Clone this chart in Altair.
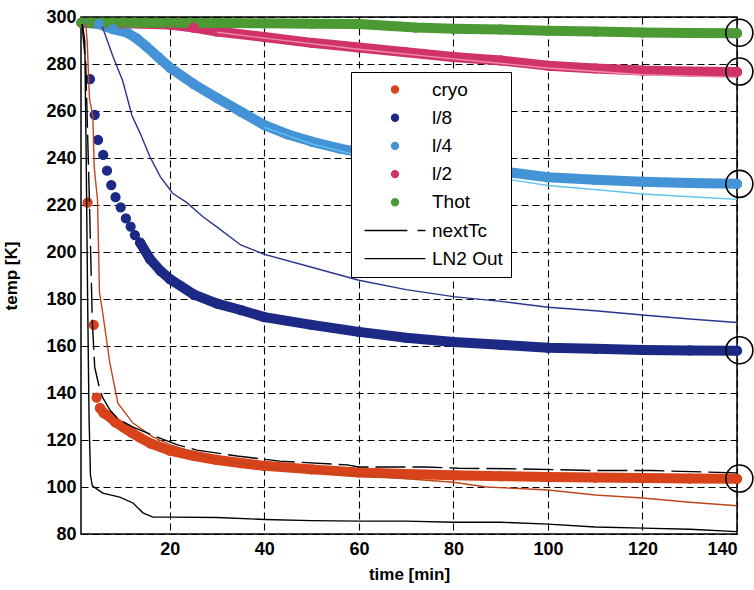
import altair as alt
import pandas as pd

# ---------------- data ----------------
series_names = ["cryo", "l/8", "l/4", "l/2", "Thot", "nextTc", "LN2 Out"]
series_colors = ["#d8431c", "#1c2a86", "#4493d6", "#d0336a", "#4c9a34", "#000000", "#000000"]

# early, separated dots
cryo_dot_t = [2.6, 3.9, 4.5]
cryo_dot_T = [221, 169, 138]
l8_dot_t = [3.1, 4.1, 4.8, 5.9, 6.7, 7.6, 8.5, 9.6, 10.7, 11.7, 12.6]
l8_dot_T = [273.6, 258.3, 247.7, 241.3, 234.6, 228.5, 223.3, 219.0, 214.3, 210.8, 207.2]

# dense parts (drawn as bands of dots)
cryo_t = [5.2, 6, 7.3, 8.5, 10.1, 12, 13.7, 16, 20, 25, 30, 35, 40, 50, 60, 70, 80, 90, 100, 110, 120, 130, 140]
cryo_T = [133.6, 131.5, 129.8, 127.5, 125.5, 123, 121, 118.5, 115.5, 113.3, 111.5, 110.2, 109, 107.5, 106.2,
          105.5, 105, 104.6, 104.3, 104, 103.8, 103.6, 103.5]
l8_t = [13.7, 15.8, 18, 20, 25, 30, 35, 40, 50, 60, 70, 80, 90, 100, 110, 120, 130, 140]
l8_T = [204, 197, 192, 188.5, 182, 178, 175.3, 172.3, 169, 166, 163.5, 161.7, 160.5, 159.3, 158.8, 158.3, 158.1, 158]
l4_t = [1.5, 5, 8, 11, 13, 15, 17.5, 20, 25, 30, 35, 40, 45, 50, 56, 60, 70, 80, 90, 93, 100, 110, 120, 130, 140]
l4_T = [297.5, 297, 294.8, 293.3, 290.8, 287.5, 283, 278.5, 271.5, 265.5, 259.7, 254, 250, 247, 244, 242.5,
        239.5, 237, 234.5, 233.6, 231.8, 230.7, 229.9, 229.4, 229]
l2_t = [1.3, 10, 20, 25, 30, 40, 50, 60, 70, 80, 90, 100, 110, 120, 130, 140]
l2_T = [297.5, 297.3, 296.8, 295.5, 293.8, 291.5, 289, 287, 285, 283, 281.5, 279.3, 278.1, 277.2, 276.8, 276.6]
thot_t = [1.3, 10, 20, 30, 40, 50, 60, 72, 80, 90, 100, 110, 120, 130, 140]
thot_T = [297.6, 297.6, 297.5, 297.4, 297.3, 297.1, 297, 295.5, 295, 294.7, 294.2, 293.8, 293.4, 293.2, 293.1]

# thin lines (not in legend)
navy_thin_t = [5.7, 8, 10, 12, 13.7, 15.8, 18, 20.6, 23.6, 27, 30, 35, 40, 50, 60, 70, 80, 90, 100, 110, 120, 130, 140]
navy_thin_T = [296, 283, 273, 258, 250.6, 240.4, 232, 225, 221, 215, 210.6, 203, 199, 193.5, 188, 184, 181,
               179, 176.5, 175, 173.2, 171.5, 170]
red_thin_t = [2.2, 2.5, 3.0, 3.7, 4.0, 4.7, 5.1, 5.8, 7.3, 9, 12.2, 16.4, 20, 30, 40, 50, 60, 70, 80, 87,
              100, 110, 120, 130, 140]
red_thin_T = [297, 290, 265, 258, 236, 222, 183, 174, 152.8, 135.7, 127.2, 121.3, 118, 111.5, 108.5, 106.5,
              105, 103.5, 102, 100, 98.7, 96.6, 95.3, 93.5, 92]
blue_thin_t = [40, 50, 60, 70, 80, 92.6, 100, 111, 120, 132, 140]
blue_thin_T = [253, 246, 241, 237.5, 234.5, 230.6, 228.3, 226.4, 224.7, 223.3, 222.4]
pink_thin_t = [30, 40, 60, 80, 100, 120, 140]
pink_thin_T = [293.5, 291, 286.3, 282.2, 278.3, 275.4, 274.3]

nexttc_t = [1.4, 2.2, 3.0, 3.6, 4.1, 5.2, 5.8, 7.3, 9, 12.2, 16.4, 21.5, 25.7, 34.2, 43.3, 57.5, 60, 74, 81,
            94, 109.5, 122, 140]
nexttc_T = [297, 280, 220, 170, 151, 141.3, 138, 132.8, 129, 125.5, 122, 118, 115.7, 113.2, 111, 109.4, 108.5,
            108.5, 108, 107.7, 107, 107, 106]
ln2_t = [1.5, 2.0, 2.3, 2.6, 2.9, 3.2, 3.6, 5.8, 9.4, 12.2, 14.3, 16.4, 20.6, 30, 40, 50, 60, 70, 80, 90,
         100, 110, 120, 130, 140]
ln2_T = [297, 290, 240, 180, 130, 105, 100.5, 97.4, 95.7, 93.2, 89, 87.2, 87.2, 87, 86.2, 85.7, 85.5, 85.5,
         85, 85, 84.2, 83, 82.5, 82, 81]

# end markers
end_t = [140.5, 140.5, 140.5, 140.5, 140.5]
end_T = [293.3, 276.8, 229, 158.2, 103.6]

x_ticks = [20, 40, 60, 80, 100, 120, 140]
y_ticks = [80, 100, 120, 140, 160, 180, 200, 220, 240, 260, 280, 300]

# ---------------- build tables ----------------
bands = [("cryo", cryo_t, cryo_T), ("l/8", l8_t, l8_T), ("l/4", l4_t, l4_T),
         ("l/2", l2_t, l2_T), ("Thot", thot_t, thot_T)]
dot_rows = []
for t, T in zip(cryo_dot_t, cryo_dot_T):
    dot_rows.append({"series": "cryo", "t": t, "T": T})
for name, ts, Ts in bands[:1]:
    for t, T in zip(ts, Ts):
        dot_rows.append({"series": name, "t": t, "T": T})
for t, T in zip(l8_dot_t, l8_dot_T):
    dot_rows.append({"series": "l/8", "t": t, "T": T})
for name, ts, Ts in bands[1:]:
    for t, T in zip(ts, Ts):
        dot_rows.append({"series": name, "t": t, "T": T})
dots_df = pd.DataFrame(dot_rows)

color_of = dict(zip(series_names, series_colors))
color_scale = alt.Scale(domain=series_names, range=series_colors)
x_scale = alt.Scale(domain=[1.2, 140], nice=False, zero=False)
y_scale = alt.Scale(domain=[80, 300], nice=False, zero=False)

axis_common = dict(grid=True, gridColor="black", gridDash=[7, 4], gridWidth=1.1, gridOpacity=1,
                   ticks=False, domain=False, labelFont="Liberation Sans", labelFontWeight="bold",
                   labelFontSize=18, labelColor="black", titleFont="Liberation Sans",
                   titleFontWeight="bold", titleFontSize=17, titleColor="black")
x_axis = alt.Axis(values=x_ticks, title="time [min]", labelPadding=6, titlePadding=8, **axis_common)
y_axis = alt.Axis(values=y_ticks, title="temp [K]", labelPadding=5, titlePadding=25, **axis_common)

X = alt.X("t:Q", scale=x_scale, axis=x_axis)
Y = alt.Y("T:Q", scale=y_scale, axis=y_axis)
Xn = alt.X("t:Q", scale=x_scale)
Yn = alt.Y("T:Q", scale=y_scale)

layers = []

# band lines per series (cryo first, Thot last)
for name, ts, Ts in bands:
    df = pd.DataFrame({"t": ts, "T": Ts})
    layers.append(alt.Chart(df).mark_line(strokeWidth=10, strokeCap="round", strokeJoin="round",
                                          color=color_of[name]).encode(
        x=Xn if layers else X, y=Yn if layers else Y))

# legend symbols: circles for dot series, horizontal strokes for line series
solid_path = "M-8.6,0H8.6"
dashed_path = "M-8.6,0H3.5M6.4,0H8.6"
shape_range = ["circle"] * 5 + [dashed_path, solid_path]

legend = alt.Legend(
    title=None, orient="none", legendX=270, legendY=55, padding=8,
    strokeColor="black", fillColor="white",
    labelFont="Liberation Sans", labelFontSize=19, labelColor="black",
    symbolSize=50, symbolOffset=26.5, labelOffset=27.5, rowPadding=8.2,
    symbolStrokeWidth=1.3, symbolOpacity=1,
)

layers.append(alt.Chart(dots_df).mark_point(size=80, filled=True, opacity=1, strokeWidth=1.3).encode(
    x=Xn, y=Yn,
    color=alt.Color("series:N", scale=color_scale, legend=legend),
    stroke=alt.Stroke("series:N", scale=alt.Scale(domain=series_names, range=series_colors), legend=legend),
    shape=alt.Shape("series:N", scale=alt.Scale(domain=series_names, range=shape_range), legend=legend)))

thin = [(navy_thin_t, navy_thin_T, "#2a3590"), (red_thin_t, red_thin_T, "#c0461c"),
        (blue_thin_t, blue_thin_T, "#62c4ee"), (pink_thin_t, pink_thin_T, "#f08cb0")]
for ts, Ts, col in thin:
    df = pd.DataFrame({"t": ts, "T": Ts})
    layers.append(alt.Chart(df).mark_line(strokeWidth=1.4, color=col).encode(x=Xn, y=Yn))

layers.append(alt.Chart(pd.DataFrame({"t": nexttc_t, "T": nexttc_T})).mark_line(
    strokeWidth=1.4, color="black", strokeDash=[30, 7]).encode(x=Xn, y=Yn))
layers.append(alt.Chart(pd.DataFrame({"t": ln2_t, "T": ln2_T})).mark_line(
    strokeWidth=1.4, color="black").encode(x=Xn, y=Yn))

layers.append(alt.Chart(pd.DataFrame({"t": end_t, "T": end_T})).mark_point(
    shape="circle", filled=False, size=729, color="black", strokeWidth=1.6, opacity=1).encode(x=Xn, y=Yn))

chart = alt.layer(*layers).properties(
    width=656, height=517,
    padding={"left": 81, "top": 17, "right": 17, "bottom": 56},
    autosize=alt.AutoSizeParams(type="none"),
    background="white",
).configure_view(stroke="black", strokeWidth=1.5)

chart.save("out.html", embed_options={"renderer": "svg", "actions": False})
